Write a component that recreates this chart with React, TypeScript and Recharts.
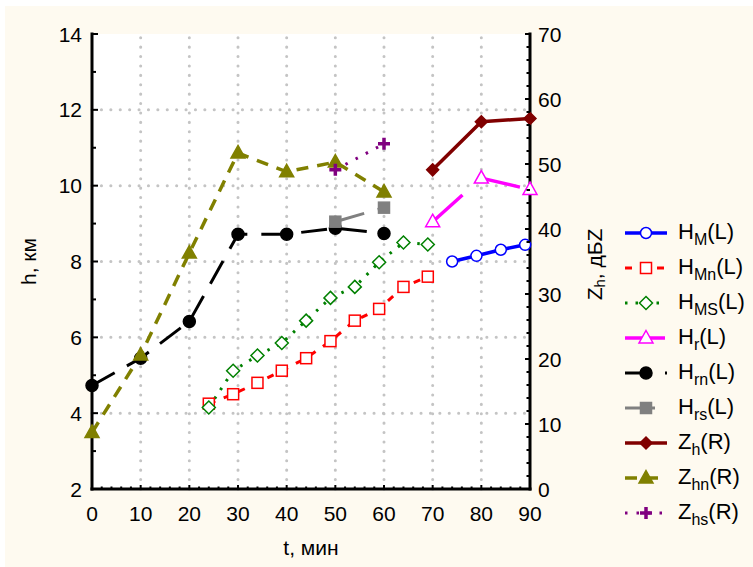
import React from "react";
import { CartesianGrid, ComposedChart, Line, ReferenceLine, XAxis, YAxis } from "recharts";

// time, minutes / height, km (left axis) or reflectivity, dBZ (right axis)
const hmTime = [74, 79, 84, 89];
const hmHeight = [8.0, 8.15, 8.31, 8.44];

const hmnTime = [24, 29, 34, 39, 44, 49, 54, 59, 64, 69];
const hmnHeight = [4.25, 4.5, 4.8, 5.12, 5.45, 5.9, 6.44, 6.75, 7.33, 7.6];

const hmsTime = [24, 29, 34, 39, 44, 49, 54, 59, 64, 69];
const hmsHeight = [4.15, 5.12, 5.52, 5.85, 6.44, 7.04, 7.33, 7.98, 8.5, 8.45];

const hrTime = [70, 80, 90];
const hrHeight = [9.05, 10.2, 9.9];

const hrnTime = [0, 10, 20, 30, 40, 50, 60];
const hrnHeight = [4.73, 5.45, 6.42, 8.72, 8.72, 8.88, 8.74];

const hrsTime = [50, 60];
const hrsHeight = [9.05, 9.42];

const zhTime = [70, 80, 90];
const zhRefl = [49.1, 56.5, 57.0];

const zhnTime = [0, 10, 20, 30, 40, 50, 60];
const zhnRefl = [8.7, 20.6, 36.3, 51.7, 48.8, 50.3, 45.7];

const zhsTime = [50, 60];
const zhsRefl = [49.1, 53.1];

const xTicks = [0, 10, 20, 30, 40, 50, 60, 70, 80, 90];
const leftTicks = [2, 4, 6, 8, 10, 12, 14];
const rightTicks = [0, 10, 20, 30, 40, 50, 60, 70];

const xMinor = Array.from({ length: 46 }, (_, i) => i * 2);
const leftMinor = Array.from({ length: 13 }, (_, i) => i + 2);
const rightMinor = Array.from({ length: 36 }, (_, i) => i * 2);

const FONT = "'Liberation Sans', Arial, sans-serif";
const BG = "#fefaf0";

type Shape = "circle" | "square" | "diamond" | "triangle" | "plus";

type Series = {
  id: string;
  base: string;
  sub: string;
  side: "L" | "R";
  time: number[];
  values: number[];
  color: string;
  width: number;
  dash?: string;
  shape: Shape;
  filled: boolean;
};

const series: Series[] = [
  { id: "hm", base: "H", sub: "M", side: "L", time: hmTime, values: hmHeight, color: "#0000ff", width: 3.5, shape: "circle", filled: false },
  { id: "hmn", base: "H", sub: "Mn", side: "L", time: hmnTime, values: hmnHeight, color: "#ff0000", width: 3, dash: "7 9", shape: "square", filled: false },
  { id: "hms", base: "H", sub: "MS", side: "L", time: hmsTime, values: hmsHeight, color: "#008000", width: 3, dash: "2.5 8", shape: "diamond", filled: false },
  { id: "hr", base: "H", sub: "r", side: "L", time: hrTime, values: hrHeight, color: "#ff00ff", width: 3.5, dash: "40 25", shape: "triangle", filled: false },
  { id: "hrn", base: "H", sub: "rn", side: "L", time: hrnTime, values: hrnHeight, color: "#000000", width: 3, dash: "26 14", shape: "circle", filled: true },
  { id: "hrs", base: "H", sub: "rs", side: "L", time: hrsTime, values: hrsHeight, color: "#808080", width: 3, dash: "30 14", shape: "square", filled: true },
  { id: "zh", base: "Z", sub: "h", side: "R", time: zhTime, values: zhRefl, color: "#800000", width: 3.5, shape: "diamond", filled: true },
  { id: "zhn", base: "Z", sub: "hn", side: "R", time: zhnTime, values: zhnRefl, color: "#808000", width: 3.5, dash: "12 9", shape: "triangle", filled: true },
  { id: "zhs", base: "Z", sub: "hs", side: "R", time: zhsTime, values: zhsRefl, color: "#800080", width: 3, dash: "2.5 9", shape: "plus", filled: true }
];

function Marker({ cx, cy, s }: { cx: number; cy: number; s: Series }) {
  if (cx == null || cy == null) return null;
  const fill = s.filled ? s.color : "#ffffff";
  const sw = 1.5;
  switch (s.shape) {
    case "circle":
      return <circle cx={cx} cy={cy} r={s.filled ? 6 : 5.5} fill={fill} stroke={s.color} strokeWidth={sw} />;
    case "square":
      return <rect x={cx - 5.5} y={cy - 5.5} width={11} height={11} fill={fill} stroke={s.color} strokeWidth={sw} />;
    case "diamond": {
      const r = s.filled ? 6 : 6.5;
      return (
        <polygon
          points={`${cx},${cy - r} ${cx + r},${cy} ${cx},${cy + r} ${cx - r},${cy}`}
          fill={fill}
          stroke={s.color}
          strokeWidth={sw}
        />
      );
    }
    case "triangle":
      return (
        <polygon
          points={`${cx},${cy - 7.5} ${cx + 7},${cy + 5} ${cx - 7},${cy + 5}`}
          fill={fill}
          stroke={s.color}
          strokeWidth={sw}
        />
      );
    case "plus":
      return (
        <path
          d={`M${cx - 6},${cy}H${cx + 6}M${cx},${cy - 6}V${cy + 6}`}
          stroke={s.color}
          strokeWidth={3.5}
          fill="none"
        />
      );
  }
  return null;
}

function LeftTick({ x, y, payload }: any) {
  const major = payload.value % 2 === 0;
  return (
    <g>
      <line x1={x} x2={x + (major ? 6 : 4)} y1={y} y2={y} stroke="#000" strokeWidth={2} />
      {major && (
        <text x={x - 10} y={y} textAnchor="end" dominantBaseline="central" fontSize={21} fontFamily={FONT} fill="#000">
          {payload.value}
        </text>
      )}
    </g>
  );
}

function RightTick({ x, y, payload }: any) {
  const major = payload.value % 10 === 0;
  return (
    <g>
      <line x1={x} x2={x - (major ? 5 : 3.5)} y1={y} y2={y} stroke="#000" strokeWidth={2} />
      {major && (
        <text x={x + 8} y={y} textAnchor="start" dominantBaseline="central" fontSize={21} fontFamily={FONT} fill="#000">
          {payload.value}
        </text>
      )}
    </g>
  );
}

function BottomTick({ x, y, payload }: any) {
  const major = payload.value % 10 === 0;
  return (
    <g>
      <line x1={x} x2={x} y1={y} y2={y - (major ? 4 : 2.5)} stroke="#000" strokeWidth={2} />
      {major && (
        <text x={x} y={y + 24} textAnchor="middle" dominantBaseline="central" fontSize={21} fontFamily={FONT} fill="#000">
          {payload.value}
        </text>
      )}
    </g>
  );
}

function TopTick({ x, y, payload }: any) {
  const major = payload.value % 10 === 0;
  return <line x1={x} x2={x} y1={y} y2={y + (major ? 4 : 2.5)} stroke="#000" strokeWidth={2} />;
}

function LegendSample({ s }: { s: Series }) {
  return (
    <svg width={48} height={22} style={{ display: "block" }}>
      <line x1={3} x2={45} y1={11} y2={11} stroke={s.color} strokeWidth={s.width} strokeDasharray={s.dash} />
      <Marker cx={24} cy={11} s={s} />
    </svg>
  );
}

export default function App() {
  return (
    <div style={{ position: "relative", width: 753, height: 567, background: "#ffffff", overflow: "hidden" }}>
      <style>{`body{margin:0;background:#fff}`}</style>
      <div style={{ position: "absolute", left: 5, top: 6, right: 0, bottom: 0, background: BG }} />
      <div style={{ position: "absolute", left: 0, top: 0 }}>
        <ComposedChart width={753} height={567} margin={{ top: 34, right: 163, bottom: 38, left: 32 }}>
          <CartesianGrid fill="#ffffff" horizontal={false} vertical={false} />
          {leftTicks.slice(1, -1).map((v) => (
            <ReferenceLine
              key={`h${v}`}
              yAxisId="left"
              y={v}
              stroke="#c4c4c4"
              strokeWidth={3}
              strokeLinecap="round"
              strokeDasharray="0.1 9.3"
            />
          ))}
          {xTicks.slice(1, -1).map((v) => (
            <ReferenceLine
              key={`v${v}`}
              x={v}
              yAxisId="left"
              stroke="#c4c4c4"
              strokeWidth={3}
              strokeLinecap="round"
              strokeDasharray="0.1 9.3"
            />
          ))}
          <XAxis
            type="number"
            dataKey="t"
            domain={[0, 90]}
            ticks={xMinor}
            interval={0}
            tick={<BottomTick />}
            tickLine={false}
            tickSize={0}
            tickMargin={0}
            height={40}
            axisLine={{ stroke: "#000", strokeWidth: 3, strokeLinecap: "square" }}
            label={{
              content: (p: any) => {
                const vb = p.viewBox ?? { x: 92, y: 489, width: 438, height: 40 };
                return (
                  <text x={vb.x + vb.width / 2} y={vb.y + 58} textAnchor="middle" dominantBaseline="central" fontSize={21} fontFamily={FONT} fill="#000">
                    t, мин
                  </text>
                );
              }
            }}
          />
          <XAxis
            xAxisId="top"
            orientation="top"
            type="number"
            dataKey="t"
            domain={[0, 90]}
            ticks={xMinor}
            interval={0}
            tick={<TopTick />}
            tickLine={false}
            tickSize={0}
            tickMargin={0}
            height={0}
            axisLine={{ stroke: "#000", strokeWidth: 3, strokeLinecap: "square" }}
          />
          <YAxis
            yAxisId="left"
            type="number"
            domain={[2, 14]}
            ticks={leftMinor}
            interval={0}
            tick={<LeftTick />}
            tickLine={false}
            tickSize={0}
            tickMargin={0}
            width={60}
            axisLine={{ stroke: "#000", strokeWidth: 3, strokeLinecap: "square" }}
            label={{
              content: (p: any) => {
                const vb = p.viewBox ?? { x: 32, y: 34, width: 60, height: 455 };
                const cx = vb.x - 4;
                const cy = vb.y + vb.height / 2;
                return (
                  <text transform={`translate(${cx},${cy}) rotate(-90)`} textAnchor="middle" dominantBaseline="central" fontSize={21} fontFamily={FONT} fill="#000">
                    h, км
                  </text>
                );
              }
            }}
          />
          <YAxis
            yAxisId="right"
            orientation="right"
            type="number"
            domain={[0, 70]}
            ticks={rightMinor}
            interval={0}
            tick={<RightTick />}
            tickLine={false}
            tickSize={0}
            tickMargin={0}
            width={60}
            axisLine={{ stroke: "#000", strokeWidth: 3, strokeLinecap: "square" }}
            label={{
              content: (p: any) => {
                const vb = p.viewBox ?? { x: 530, y: 34, width: 60, height: 455 };
                const cx = vb.x + 64;
                const cy = vb.y + vb.height / 2 + 3;
                return (
                  <text transform={`translate(${cx},${cy}) rotate(-90)`} textAnchor="middle" dominantBaseline="central" fontSize={21} fontFamily={FONT} fill="#000">
                    <tspan>Z</tspan>
                    <tspan fontSize={15} dy={5}>h</tspan>
                    <tspan dy={-5}>, дБZ</tspan>
                  </text>
                );
              }
            }}
          />
          {series.map((s) => (
            <Line
              key={s.id}
              data={s.time.map((t, i) => ({ t, v: s.values[i] }))}
              dataKey="v"
              yAxisId={s.side === "L" ? "left" : "right"}
              type="linear"
              stroke={s.color}
              strokeWidth={s.width}
              strokeDasharray={s.dash}
              dot={(p: any) => <Marker key={`${s.id}-${p.index}`} cx={p.cx} cy={p.cy} s={s} />}
              activeDot={false}
              isAnimationActive={false}
              legendType="none"
            />
          ))}
        </ComposedChart>
      </div>
      <div style={{ position: "absolute", left: 622, top: 215, fontFamily: FONT, color: "#000" }}>
        {series.map((s) => (
          <div key={s.id} style={{ display: "flex", alignItems: "center", height: 35 }}>
            <LegendSample s={s} />
            <span style={{ marginLeft: 8, fontSize: 22, lineHeight: "22px", whiteSpace: "nowrap" }}>
              {s.base}
              <span style={{ fontSize: 16, position: "relative", top: 6 }}>{s.sub}</span>
              ({s.side})
            </span>
          </div>
        ))}
      </div>
    </div>
  );
}
